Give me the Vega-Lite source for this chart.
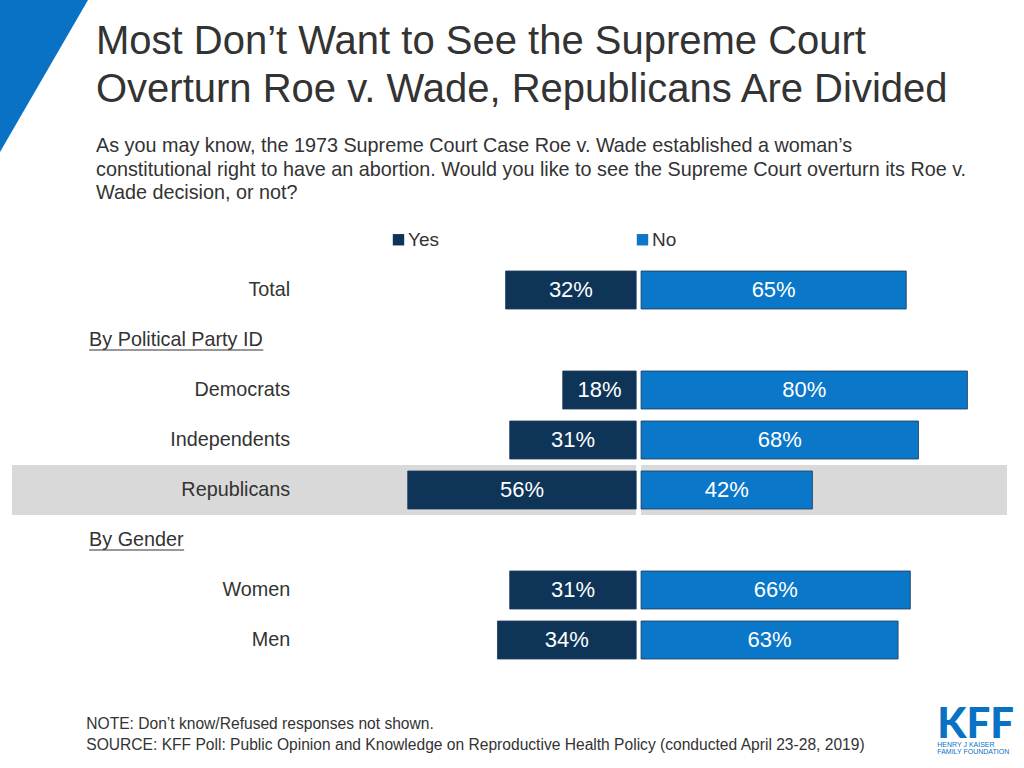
{
  "$schema": "https://vega.github.io/schema/vega-lite/v6.json",
  "width": 995,
  "height": 400,
  "autosize": {"type": "none"},
  "padding": {"left": 12, "top": 265, "right": 17, "bottom": 103},
  "background": "white",
  "config": {"view": {"stroke": null}, "font": "Liberation Sans"},
  "title": {
    "text": ["Most Don’t Want to See the Supreme Court", "Overturn Roe v. Wade, Republicans Are Divided"],
    "subtitle": ["As you may know, the 1973 Supreme Court Case Roe v. Wade established a woman’s", "constitutional right to have an abortion. Would you like to see the Supreme Court overturn its Roe v.", "Wade decision, or not?"],
    "anchor": "start",
    "frame": "group",
    "dx": 84,
    "offset": -213,
    "font": "Liberation Sans",
    "fontSize": 40,
    "fontWeight": "normal",
    "lineHeight": 48,
    "color": "#333333",
    "subtitleFont": "Liberation Sans",
    "subtitleFontSize": 19.8,
    "subtitleLineHeight": 23.6,
    "subtitleColor": "#333333",
    "subtitlePadding": 26
  },
  "datasets": {
    "survey": [
      {"group": "Total", "response": "Yes", "value": 32},
      {"group": "Total", "response": "No", "value": 65},
      {"group": "Democrats", "response": "Yes", "value": 18},
      {"group": "Democrats", "response": "No", "value": 80},
      {"group": "Independents", "response": "Yes", "value": 31},
      {"group": "Independents", "response": "No", "value": 68},
      {"group": "Republicans", "response": "Yes", "value": 56},
      {"group": "Republicans", "response": "No", "value": 42},
      {"group": "Women", "response": "Yes", "value": 31},
      {"group": "Women", "response": "No", "value": 66},
      {"group": "Men", "response": "Yes", "value": 34},
      {"group": "Men", "response": "No", "value": 63}
    ],
    "labels": [
      {"label": "Total", "kind": "row"},
      {"label": "By Political Party ID", "kind": "header"},
      {"label": "Democrats", "kind": "row"},
      {"label": "Independents", "kind": "row"},
      {"label": "Republicans", "kind": "row"},
      {"label": "By Gender", "kind": "header"},
      {"label": "Women", "kind": "row"},
      {"label": "Men", "kind": "row"}
    ]
  },
  "resolve": {"axis": {"x": "independent", "y": "independent"}},
  "layer": [
    {
      "data": {"name": "labels"},
      "transform": [{"filter": "datum.label == 'Total'"}],
      "mark": {"type": "point", "shape": "M -22 -300 L 81.8 -300 L -22 -120.7 Z", "size": 4, "filled": true, "fill": "#0a72c4", "opacity": 1, "strokeWidth": 0},
      "encoding": {
        "x": {"datum": -153.6, "type": "quantitative", "axis": null},
        "y": {"field": "label", "type": "nominal", "axis": null}
      }
    },
    {
      "data": {"name": "labels"},
      "transform": [{"filter": "datum.label == 'Republicans'"}],
      "mark": {"type": "bar", "color": "#d9d9d9", "height": 50},
      "encoding": {
        "x": {"datum": -153.6, "type": "quantitative", "axis": null},
        "x2": {"datum": 90.3},
        "y": {"field": "label", "type": "nominal", "axis": null}
      }
    },
    {
      "data": {"name": "labels"},
      "transform": [{"filter": "datum.label == 'Republicans'"}],
      "mark": {"type": "bar", "color": "#ffffff", "height": 50},
      "encoding": {
        "x": {"datum": -0.6, "type": "quantitative", "axis": null},
        "x2": {"datum": 0.6},
        "y": {"field": "label", "type": "nominal", "axis": null}
      }
    },
    {
      "data": {"name": "survey"},
      "transform": [
        {"calculate": "datum.response == 'Yes' ? -0.6 : 0.6", "as": "start"},
        {"calculate": "datum.response == 'Yes' ? -datum.value - 0.6 : datum.value + 0.6", "as": "end"}
      ],
      "mark": {"type": "bar", "stroke": "#1b3a5c", "strokeWidth": 1, "strokeOpacity": 0.8},
      "encoding": {
        "x": {
          "field": "end", "type": "quantitative",
          "scale": {"domain": [-153.6, 90.3], "nice": false, "zero": false},
          "axis": null
        },
        "x2": {"field": "start"},
        "y": {
          "field": "group", "type": "nominal",
          "scale": {"domain": ["Total", "By Political Party ID", "Democrats", "Independents", "Republicans", "By Gender", "Women", "Men"], "paddingInner": 0.24, "paddingOuter": 0.12},
          "axis": null
        },
        "color": {
          "field": "response", "type": "nominal",
          "scale": {"domain": ["Yes", "No"], "range": ["#0e3558", "#0a77c8"]},
          "legend": {
            "orient": "none", "legendX": 377, "legendY": -35, "direction": "horizontal", "columns": 2,
            "title": null, "symbolType": "square", "symbolSize": 130, "symbolStrokeWidth": 0,
            "labelFontSize": 19, "labelColor": "#333333", "labelFont": "Liberation Sans",
            "labelOffset": 0, "columnPadding": 194, "padding": 0
          }
        }
      }
    },
    {
      "data": {"name": "survey"},
      "transform": [
        {"calculate": "datum.response == 'Yes' ? -datum.value / 2 - 0.6 : datum.value / 2 + 0.6", "as": "mid"},
        {"calculate": "datum.value + '%'", "as": "lbl"}
      ],
      "mark": {"type": "text", "color": "#ffffff", "fontSize": 22, "align": "center", "baseline": "middle", "font": "Liberation Sans"},
      "encoding": {
        "x": {"field": "mid", "type": "quantitative", "axis": null},
        "y": {"field": "group", "type": "nominal", "axis": null},
        "text": {"field": "lbl"}
      }
    },
    {
      "data": {"name": "labels"},
      "transform": [{"filter": "datum.kind == 'row'"}],
      "mark": {"type": "text", "color": "#333333", "fontSize": 19.8, "align": "right", "baseline": "middle", "font": "Liberation Sans"},
      "encoding": {
        "x": {"datum": -85.4, "type": "quantitative", "axis": null},
        "y": {"field": "label", "type": "nominal", "axis": null},
        "text": {"field": "label"}
      }
    },
    {
      "data": {"name": "labels"},
      "transform": [{"filter": "datum.kind == 'header'"}],
      "mark": {"type": "text", "color": "#333333", "fontSize": 19.8, "align": "left", "baseline": "middle", "font": "Liberation Sans"},
      "encoding": {
        "x": {"datum": -134.7, "type": "quantitative", "axis": null},
        "y": {"field": "label", "type": "nominal", "axis": null},
        "text": {"field": "label"}
      }
    },
    {
      "data": {"name": "labels"},
      "transform": [{"filter": "datum.label == 'By Political Party ID'"}],
      "mark": {"type": "rule", "color": "#333333", "strokeWidth": 1.2, "yOffset": 10},
      "encoding": {
        "x": {"datum": -134.7, "type": "quantitative", "axis": null},
        "x2": {"datum": -92.0},
        "y": {"field": "label", "type": "nominal", "axis": null}
      }
    },
    {
      "data": {"name": "labels"},
      "transform": [{"filter": "datum.label == 'By Gender'"}],
      "mark": {"type": "rule", "color": "#333333", "strokeWidth": 1.2, "yOffset": 10},
      "encoding": {
        "x": {"datum": -134.7, "type": "quantitative", "axis": null},
        "x2": {"datum": -111.4},
        "y": {"field": "label", "type": "nominal", "axis": null}
      }
    },
    {
      "data": {"name": "labels"},
      "transform": [{"filter": "datum.label == 'Men'"}],
      "mark": {"type": "text", "text": ["NOTE: Don’t know/Refused responses not shown.", "SOURCE: KFF Poll: Public Opinion and Knowledge on Reproductive Health Policy (conducted April 23-28, 2019)"], "font": "Liberation Sans", "fontSize": 15.6, "lineHeight": 21, "color": "#333333", "align": "left", "baseline": "top", "dy": 77},
      "encoding": {
        "x": {"datum": -135.4, "type": "quantitative", "axis": null},
        "y": {"field": "label", "type": "nominal", "axis": null}
      }
    },
    {
      "data": {"name": "labels"},
      "transform": [{"filter": "datum.label == 'Men'"}],
      "mark": {"type": "text", "text": "KFF", "font": "Lato", "fontWeight": 900, "fontSize": 42, "color": "#0a72c4", "align": "left", "baseline": "alphabetic", "dy": 98},
      "encoding": {
        "x": {"datum": 73.2, "type": "quantitative", "axis": null},
        "y": {"field": "label", "type": "nominal", "axis": null}
      }
    },
    {
      "data": {"name": "labels"},
      "transform": [{"filter": "datum.label == 'Men'"}],
      "mark": {"type": "text", "text": ["HENRY J KAISER", "FAMILY FOUNDATION"], "font": "Liberation Sans", "fontSize": 7, "lineHeight": 7.5, "color": "#0a72c4", "align": "left", "baseline": "top", "dy": 100.5},
      "encoding": {
        "x": {"datum": 73.2, "type": "quantitative", "axis": null},
        "y": {"field": "label", "type": "nominal", "axis": null}
      }
    }
  ]
}
